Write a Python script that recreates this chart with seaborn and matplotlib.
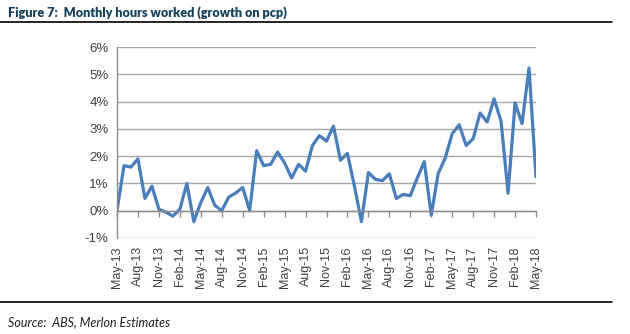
import matplotlib
matplotlib.use("Agg")
import matplotlib.pyplot as plt
import matplotlib.lines as mlines
import seaborn as sns
import pandas as pd
import numpy as np

months = pd.date_range("2013-05-01", "2018-05-01", freq="MS")
growth = [0.0, 1.65, 1.6, 1.9, 0.45, 0.9, 0.05, -0.05, -0.2, 0.05,
          1.0, -0.4, 0.3, 0.85, 0.2, 0.0, 0.5, 0.65, 0.85, 0.0,
          2.2, 1.65, 1.7, 2.15, 1.75, 1.2, 1.7, 1.45, 2.4, 2.75,
          2.55, 3.1, 1.85, 2.1, 0.9, -0.4, 1.4, 1.15, 1.1, 1.35,
          0.45, 0.6, 0.55, 1.2, 1.8, -0.16, 1.37, 1.93, 2.82, 3.15,
          2.39, 2.64, 3.58, 3.25, 4.1, 3.27, 0.64, 3.95, 3.19, 5.23,
          1.25]
tick_labels = [m.strftime("%b-%y") for m in months[::3]]
y_ticks = [-1, 0, 1, 2, 3, 4, 5, 6]
title = "Figure 7:  Monthly hours worked (growth on pcp)"
source = "Source:  ABS, Merlon Estimates"

df = pd.DataFrame({"idx": np.arange(len(growth)), "growth": growth})

sns.set_theme(style="white")
plt.rcParams["font.family"] = ["Liberation Sans", "DejaVu Sans"]

fig = plt.figure(figsize=(6.3, 3.34), dpi=100)
ax = fig.add_axes([117/630, 1 - 238/334, (536-117)/630, (238-47)/334])

sns.lineplot(data=df, x="idx", y="growth", ax=ax, color="#4a7ebb", linewidth=2.3)

ax.set_xlim(0, len(growth) - 1)
ax.set_ylim(-1, 6)
ax.set_yticks(y_ticks)
ax.set_yticklabels([f"{v}%" for v in y_ticks], color="#404040", fontsize=9.5)
ax.yaxis.grid(True, color="#a6a6a6", linewidth=1)
ax.set_axisbelow(True)
ax.set_xlabel("")
ax.set_ylabel("")
for s in ["top", "right"]:
    ax.spines[s].set_visible(False)
ax.spines["left"].set_color("#8c8c8c")
ax.spines["left"].set_linewidth(1)
ax.spines["bottom"].set_position(("data", 0))
ax.spines["bottom"].set_color("#8c8c8c")
ax.spines["bottom"].set_linewidth(1)
ax.set_xticks(np.arange(0, len(growth), 3))
ax.tick_params(axis="x", direction="out", length=4, width=1, color="#8c8c8c", labelbottom=False, bottom=True)
ax.tick_params(axis="y", length=0, pad=6)

sec = ax.secondary_xaxis("bottom")
sec.set_xticks(np.arange(0, len(growth), 3))
sec.set_xticklabels(tick_labels, rotation=90, color="#404040", fontsize=9)
sec.tick_params(length=0, pad=6)
sec.spines["bottom"].set_visible(False)

fig.text(8/630, 1 - 13/334, title, fontsize=9.1, fontweight="heavy", color="#17405a",
         va="center", ha="left", family=["Lato", "DejaVu Sans"])
fig.add_artist(mlines.Line2D([0, 612/630], [1 - 22/334, 1 - 22/334], color="black", linewidth=1.2,
                             transform=fig.transFigure))
fig.add_artist(mlines.Line2D([0, 612/630], [1 - 302/334, 1 - 302/334], color="black", linewidth=1.2,
                             transform=fig.transFigure))
fig.text(8/630, 1 - 322/334, source, fontsize=9, style="italic", color="#202020",
         va="center", ha="left", family=["Lato", "DejaVu Sans"])

fig.savefig("out.png", dpi=100, facecolor="white")
